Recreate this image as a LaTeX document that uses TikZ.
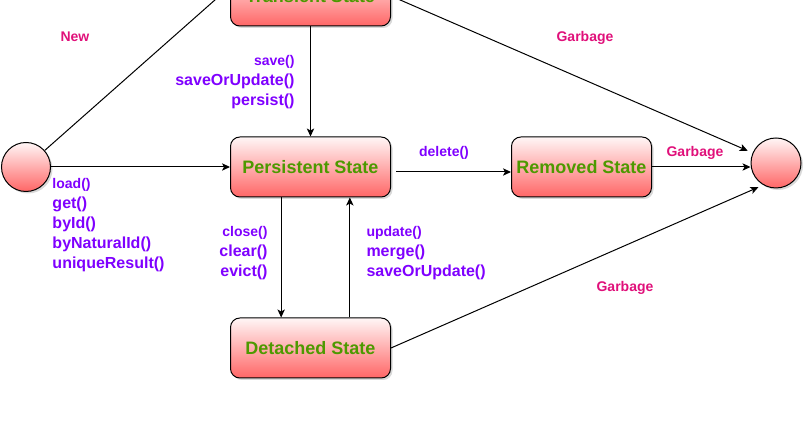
\documentclass[tikz,border=0pt]{standalone}
\usepackage{fontspec}
\setmainfont{Liberation Sans}
\usepackage{tikz}
\usetikzlibrary{arrows.meta,positioning,calc,shadows}
\definecolor{boxtop}{HTML}{FFF6F6}
\definecolor{boxbot}{HTML}{FF6666}
\definecolor{stategreen}{HTML}{4D9900}
\definecolor{methodc}{HTML}{7F00FF}
\definecolor{garbc}{HTML}{E0107A}
\tikzstyle{state}=[draw,rounded corners=7pt,top color=boxtop,bottom color=boxbot,minimum width=120pt,minimum height=45pt,inner sep=0pt,text=stategreen,font=\fontsize{13.5}{16}\selectfont\bfseries,drop shadow={shadow xshift=1.5pt,shadow yshift=-1.5pt,opacity=0.3}]
\tikzstyle{term}=[draw,circle,top color=boxtop,bottom color=boxbot,inner sep=0pt,drop shadow={shadow xshift=1.5pt,shadow yshift=-1.5pt,opacity=0.3}]
\tikzstyle{method}=[text=methodc,font=\fontsize{12}{15}\selectfont\bfseries,inner sep=0pt]
\tikzstyle{garb}=[text=garbc,font=\fontsize{10.5}{13}\selectfont\bfseries,inner sep=0pt]
\tikzstyle{arr}=[-{Stealth[length=6pt,width=5.5pt,inset=1.5pt]}]
\newcommand{\firstln}[1]{{\fontsize{10.5}{15}\selectfont #1}}

\begin{document}
\begin{tikzpicture}[x=0.75pt,y=-0.75pt,line width=0.75pt]
\useasboundingbox (0,0) rectangle (804,423);
\clip (0,0) rectangle (804,423);
\node [state] (persist) at (310.5,167) {Persistent State};
\node [state,above=82.5pt of persist] (trans) {Transient State};
\node [state,below=90pt of persist] (detached) {Detached State};
\node [state,minimum width=105pt,right=90pt of persist] (removed) {Removed State};
\node [term,minimum size=36.75pt] (start) at (26,167) {};
\node [term,minimum size=37.5pt] (end) at (776,163) {};
\node [garb] (newlbl) at (75,37) {New};
\node [garb] (garb1) at (585,38) {Garbage};
\node [garb] (garb2) at (695,153) {Garbage};
\node [garb] (garb3) at (625,288) {Garbage};
\node [method] (dellbl) at (444,153) {\firstln{delete()}};
\node [method,anchor=east,align=right] (savelbl) at (295,82.5) {\firstln{save()}\\saveOrUpdate()\\persist()};
\node [method,anchor=east,align=right] (closelbl) at (268,253.5) {\firstln{close()}\\clear()\\evict()};
\node [method,anchor=west,align=left] (updlbl) at (366,253.5) {\firstln{update()}\\merge()\\saveOrUpdate()};
\node [method,anchor=west,align=left] (loadlbl) at (52,225) {\firstln{load()}\\get()\\byId()\\byNaturalId()\\uniqueResult()};
\draw [arr] (start) -- ([yshift=7pt]trans.west);
\draw [arr] (start.east) -- (persist.west);
\draw [arr] (trans) -- (persist);
\draw [arr] ([xshift=-22pt]persist.south) -- ([xshift=-22pt]detached.north);
\draw [arr] ([xshift=29.5pt]detached.north) -- ([xshift=29.5pt]persist.south);
\draw [arr] ([shift={(5,5)}]persist.east) -- ([shift={(0,5)}]removed.west);
\draw [arr] (removed.east) -- (removed.east -| end.west);
\draw [arr,shorten >=4pt] (trans.east) -- (end);
\draw [arr,shorten >=4pt] (detached.east) -- (end.240);
\end{tikzpicture}
\end{document}
